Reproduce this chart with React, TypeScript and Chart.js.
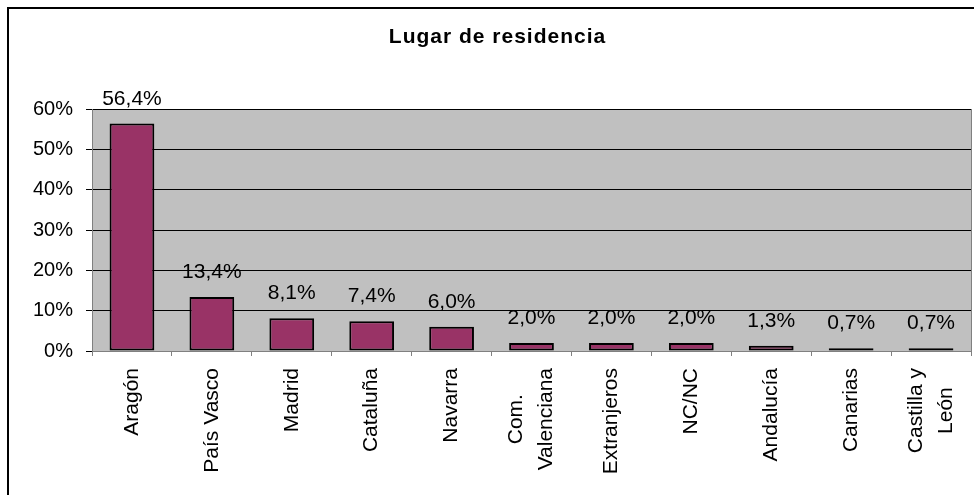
import React, { useEffect, useRef } from "react";
import { Chart, registerables } from "chart.js";

Chart.register(...registerables);

const TITLE = "Lugar de residencia";
const categories: string[][] = [
  ["Aragón"],
  ["País Vasco"],
  ["Madrid"],
  ["Cataluña"],
  ["Navarra"],
  ["Com.", "Valenciana"],
  ["Extranjeros"],
  ["NC/NC"],
  ["Andalucía"],
  ["Canarias"],
  ["Castilla y", "León"],
];
const values: number[] = [56.4, 13.4, 8.1, 7.4, 6.0, 2.0, 2.0, 2.0, 1.3, 0.7, 0.7];
const yMax = 60;
const yStep = 10;

const FONT = "'Liberation Sans', Arial, sans-serif";

const fmt = (v: number) => v.toFixed(1).replace(".", ",") + "%";

const customPlugin = {
  id: "custom",
  beforeDraw(chart: any) {
    const { ctx, chartArea } = chart;
    ctx.save();
    ctx.fillStyle = "#c0c0c0";
    ctx.fillRect(chartArea.left, chartArea.top, chartArea.right - chartArea.left, chartArea.bottom - chartArea.top);
    ctx.restore();
  },
  afterDraw(chart: any) {
    const { ctx, chartArea } = chart;
    ctx.save();
    // right border of plot area
    ctx.strokeStyle = "#808080";
    ctx.lineWidth = 1;
    ctx.beginPath();
    ctx.moveTo(Math.round(chartArea.right) + 0.5, chartArea.top);
    ctx.lineTo(Math.round(chartArea.right) + 0.5, chartArea.bottom);
    ctx.stroke();

    // title
    ctx.fillStyle = "#000";
    ctx.font = `bold 21px ${FONT}`;
    try {
      (ctx as any).letterSpacing = "1px";
    } catch (e) {}
    ctx.textAlign = "center";
    ctx.textBaseline = "alphabetic";
    ctx.fillText(TITLE, 488.5, 34);
    try {
      (ctx as any).letterSpacing = "0px";
    } catch (e) {}

    // data labels
    const meta = chart.getDatasetMeta(0);
    ctx.font = `21px ${FONT}`;
    ctx.textAlign = "center";
    ctx.textBaseline = "alphabetic";
    meta.data.forEach((bar: any, i: number) => {
      ctx.fillText(fmt(values[i]), bar.x, bar.y - 19);
    });

    // x labels (rotated, lines centered)
    const xScale = chart.scales.x;
    ctx.font = `21px ${FONT}`;
    const topY = chartArea.bottom + 17;
    categories.forEach((lines, i) => {
      const cx = xScale.getPixelForValue(i);
      const widths = lines.map((l) => ctx.measureText(l).width);
      const maxW = Math.max(...widths);
      ctx.save();
      ctx.translate(cx, topY);
      ctx.rotate(-Math.PI / 2);
      ctx.textAlign = "center";
      ctx.textBaseline = "middle";
      lines.forEach((l, j) => {
        const off = (j - (lines.length - 1) / 2) * 30;
        ctx.fillText(l, -maxW / 2, off);
      });
      ctx.restore();
    });
    ctx.restore();
  },
};

export default function App() {
  const ref = useRef<HTMLCanvasElement | null>(null);
  useEffect(() => {
    if (!ref.current) return;
    const chart = new Chart(ref.current, {
      type: "bar",
      data: {
        labels: categories.map((c) => c.join(" ")),
        datasets: [
          {
            data: values,
            backgroundColor: "#993366",
            borderColor: "#000000",
            borderWidth: 2,
            borderSkipped: false,
            barPercentage: 0.56,
            categoryPercentage: 1,
          },
        ],
      },
      options: {
        animation: false,
        responsive: false,
        maintainAspectRatio: false,
        layout: { padding: { top: 100, right: 3, left: 0, bottom: 0 } },
        plugins: {
          legend: { display: false },
          title: { display: false },
          tooltip: { enabled: false },
        },
        scales: {
          x: {
            ticks: { display: false },
            grid: {
              drawOnChartArea: false,
              drawTicks: true,
              tickLength: 5,
              tickColor: "#808080",
              offset: true,
            },
            border: { color: "#808080", width: 1 },
            afterFit: (s: any) => {
              s.height = 144;
            },
          },
          y: {
            min: 0,
            max: yMax,
            ticks: {
              stepSize: yStep,
              color: "#000",
              font: { family: FONT, size: 20 },
              padding: 13,
              callback: (v: any) => `${v}%`,
            },
            grid: {
              color: "#000000",
              lineWidth: 1,
              drawTicks: true,
              tickLength: 6,
              tickColor: "#000000",
            },
            border: { color: "#808080", width: 1 },
            afterFit: (s: any) => {
              s.width = 83;
            },
          },
        },
      },
      plugins: [customPlugin],
    });
    return () => chart.destroy();
  }, []);

  return (
    <div
      style={{
        position: "absolute",
        left: 7,
        top: 7,
        width: 965,
        height: 486,
        borderLeft: "2px solid #000",
        borderTop: "2px solid #000",
        background: "#fff",
      }}
    >
      <canvas ref={ref} width={965} height={486} style={{ display: "block", width: 965, height: 486 }} />
    </div>
  );
}
